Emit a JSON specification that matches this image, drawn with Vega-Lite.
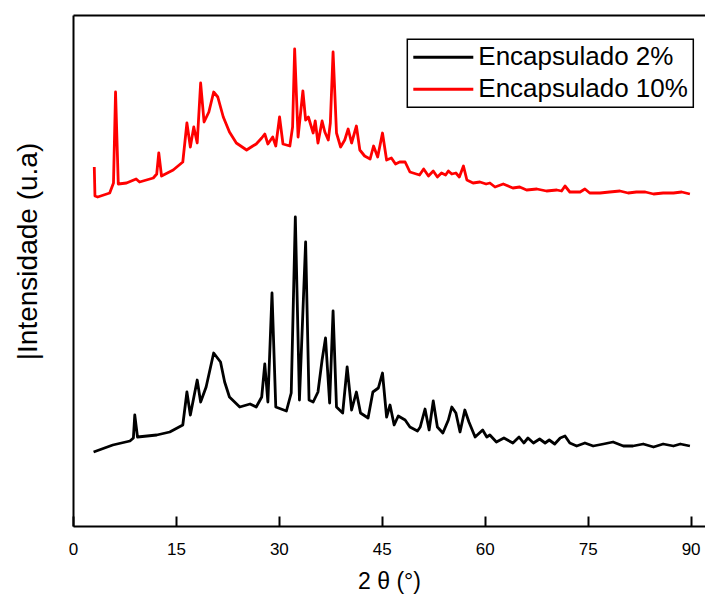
{
  "$schema": "https://vega.github.io/schema/vega-lite/v6.json",
  "autosize": {"type": "none"},
  "padding": {"left": 73, "top": 15, "right": 0, "bottom": 75},
  "width": 632,
  "height": 511,
  "background": "white",
  "config": {
    "view": {"stroke": null},
    "axis": {"grid": false, "domainColor": "#000000", "domainWidth": 2, "tickColor": "#000000", "tickWidth": 2, "labelColor": "#000000", "titleColor": "#000000", "titleFontWeight": "normal"},
    "legend": {"strokeWidth": 1.5}
  },
  "datasets": {
    "xrd": [
      {"s": "Encapsulado 2%", "x": 3.0, "v": 74},
      {"s": "Encapsulado 2%", "x": 5.8, "v": 81},
      {"s": "Encapsulado 2%", "x": 8.3, "v": 85},
      {"s": "Encapsulado 2%", "x": 8.8, "v": 88},
      {"s": "Encapsulado 2%", "x": 9.0, "v": 111},
      {"s": "Encapsulado 2%", "x": 9.4, "v": 89},
      {"s": "Encapsulado 2%", "x": 12.2, "v": 91},
      {"s": "Encapsulado 2%", "x": 14.1, "v": 94},
      {"s": "Encapsulado 2%", "x": 16.0, "v": 101},
      {"s": "Encapsulado 2%", "x": 16.6, "v": 134},
      {"s": "Encapsulado 2%", "x": 17.1, "v": 111},
      {"s": "Encapsulado 2%", "x": 18.1, "v": 146},
      {"s": "Encapsulado 2%", "x": 18.6, "v": 124},
      {"s": "Encapsulado 2%", "x": 19.4, "v": 139},
      {"s": "Encapsulado 2%", "x": 20.5, "v": 173},
      {"s": "Encapsulado 2%", "x": 21.5, "v": 164},
      {"s": "Encapsulado 2%", "x": 22.1, "v": 144},
      {"s": "Encapsulado 2%", "x": 22.8, "v": 129},
      {"s": "Encapsulado 2%", "x": 24.3, "v": 119},
      {"s": "Encapsulado 2%", "x": 25.8, "v": 122},
      {"s": "Encapsulado 2%", "x": 26.7, "v": 119},
      {"s": "Encapsulado 2%", "x": 27.5, "v": 129},
      {"s": "Encapsulado 2%", "x": 27.95, "v": 162},
      {"s": "Encapsulado 2%", "x": 28.4, "v": 124},
      {"s": "Encapsulado 2%", "x": 29.0, "v": 233},
      {"s": "Encapsulado 2%", "x": 29.55, "v": 119},
      {"s": "Encapsulado 2%", "x": 31.1, "v": 115},
      {"s": "Encapsulado 2%", "x": 31.8, "v": 133},
      {"s": "Encapsulado 2%", "x": 32.4, "v": 309},
      {"s": "Encapsulado 2%", "x": 33.0, "v": 126},
      {"s": "Encapsulado 2%", "x": 33.9, "v": 284},
      {"s": "Encapsulado 2%", "x": 34.4, "v": 126},
      {"s": "Encapsulado 2%", "x": 35.0, "v": 124},
      {"s": "Encapsulado 2%", "x": 35.7, "v": 134},
      {"s": "Encapsulado 2%", "x": 36.3, "v": 166},
      {"s": "Encapsulado 2%", "x": 36.8, "v": 188},
      {"s": "Encapsulado 2%", "x": 37.4, "v": 123},
      {"s": "Encapsulado 2%", "x": 37.9, "v": 215},
      {"s": "Encapsulado 2%", "x": 38.4, "v": 119},
      {"s": "Encapsulado 2%", "x": 39.3, "v": 113},
      {"s": "Encapsulado 2%", "x": 39.95, "v": 159},
      {"s": "Encapsulado 2%", "x": 40.6, "v": 116},
      {"s": "Encapsulado 2%", "x": 41.3, "v": 134},
      {"s": "Encapsulado 2%", "x": 41.9, "v": 113},
      {"s": "Encapsulado 2%", "x": 43.0, "v": 108},
      {"s": "Encapsulado 2%", "x": 43.7, "v": 134},
      {"s": "Encapsulado 2%", "x": 44.5, "v": 138},
      {"s": "Encapsulado 2%", "x": 45.1, "v": 153},
      {"s": "Encapsulado 2%", "x": 45.7, "v": 109},
      {"s": "Encapsulado 2%", "x": 46.2, "v": 121},
      {"s": "Encapsulado 2%", "x": 46.8, "v": 101},
      {"s": "Encapsulado 2%", "x": 47.4, "v": 110},
      {"s": "Encapsulado 2%", "x": 48.4, "v": 106},
      {"s": "Encapsulado 2%", "x": 49.1, "v": 99},
      {"s": "Encapsulado 2%", "x": 50.2, "v": 95},
      {"s": "Encapsulado 2%", "x": 50.6, "v": 99},
      {"s": "Encapsulado 2%", "x": 51.3, "v": 117},
      {"s": "Encapsulado 2%", "x": 51.9, "v": 96},
      {"s": "Encapsulado 2%", "x": 52.5, "v": 125},
      {"s": "Encapsulado 2%", "x": 53.1, "v": 99},
      {"s": "Encapsulado 2%", "x": 53.9, "v": 93},
      {"s": "Encapsulado 2%", "x": 54.7, "v": 106},
      {"s": "Encapsulado 2%", "x": 55.2, "v": 119},
      {"s": "Encapsulado 2%", "x": 55.8, "v": 113},
      {"s": "Encapsulado 2%", "x": 56.4, "v": 94},
      {"s": "Encapsulado 2%", "x": 57.1, "v": 116},
      {"s": "Encapsulado 2%", "x": 57.7, "v": 104},
      {"s": "Encapsulado 2%", "x": 58.6, "v": 89},
      {"s": "Encapsulado 2%", "x": 59.7, "v": 96},
      {"s": "Encapsulado 2%", "x": 60.3, "v": 89},
      {"s": "Encapsulado 2%", "x": 60.75, "v": 91},
      {"s": "Encapsulado 2%", "x": 61.7, "v": 84},
      {"s": "Encapsulado 2%", "x": 62.8, "v": 88},
      {"s": "Encapsulado 2%", "x": 64.1, "v": 83},
      {"s": "Encapsulado 2%", "x": 65.0, "v": 89},
      {"s": "Encapsulado 2%", "x": 65.7, "v": 83},
      {"s": "Encapsulado 2%", "x": 66.3, "v": 88},
      {"s": "Encapsulado 2%", "x": 67.1, "v": 83},
      {"s": "Encapsulado 2%", "x": 68.0, "v": 87},
      {"s": "Encapsulado 2%", "x": 68.8, "v": 83},
      {"s": "Encapsulado 2%", "x": 69.4, "v": 86},
      {"s": "Encapsulado 2%", "x": 70.2, "v": 82},
      {"s": "Encapsulado 2%", "x": 71.0, "v": 88},
      {"s": "Encapsulado 2%", "x": 71.7, "v": 90},
      {"s": "Encapsulado 2%", "x": 72.4, "v": 83},
      {"s": "Encapsulado 2%", "x": 73.4, "v": 80},
      {"s": "Encapsulado 2%", "x": 74.6, "v": 83},
      {"s": "Encapsulado 2%", "x": 75.8, "v": 80},
      {"s": "Encapsulado 2%", "x": 77.3, "v": 82},
      {"s": "Encapsulado 2%", "x": 78.7, "v": 84},
      {"s": "Encapsulado 2%", "x": 80.2, "v": 80},
      {"s": "Encapsulado 2%", "x": 81.6, "v": 80},
      {"s": "Encapsulado 2%", "x": 83.1, "v": 82},
      {"s": "Encapsulado 2%", "x": 84.6, "v": 79},
      {"s": "Encapsulado 2%", "x": 86.0, "v": 82},
      {"s": "Encapsulado 2%", "x": 87.5, "v": 80},
      {"s": "Encapsulado 2%", "x": 88.5, "v": 82},
      {"s": "Encapsulado 2%", "x": 89.9, "v": 80},
      {"s": "Encapsulado 10%", "x": 3.1, "v": 359},
      {"s": "Encapsulado 10%", "x": 3.2, "v": 330},
      {"s": "Encapsulado 10%", "x": 3.6, "v": 329},
      {"s": "Encapsulado 10%", "x": 5.35, "v": 333},
      {"s": "Encapsulado 10%", "x": 5.9, "v": 343},
      {"s": "Encapsulado 10%", "x": 6.2, "v": 434},
      {"s": "Encapsulado 10%", "x": 6.6, "v": 342},
      {"s": "Encapsulado 10%", "x": 7.8, "v": 343},
      {"s": "Encapsulado 10%", "x": 9.2, "v": 347},
      {"s": "Encapsulado 10%", "x": 9.7, "v": 344},
      {"s": "Encapsulado 10%", "x": 11.7, "v": 348},
      {"s": "Encapsulado 10%", "x": 12.2, "v": 352},
      {"s": "Encapsulado 10%", "x": 12.5, "v": 373},
      {"s": "Encapsulado 10%", "x": 12.9, "v": 350},
      {"s": "Encapsulado 10%", "x": 14.6, "v": 356},
      {"s": "Encapsulado 10%", "x": 16.0, "v": 364},
      {"s": "Encapsulado 10%", "x": 16.6, "v": 403},
      {"s": "Encapsulado 10%", "x": 17.1, "v": 379},
      {"s": "Encapsulado 10%", "x": 17.6, "v": 399},
      {"s": "Encapsulado 10%", "x": 18.1, "v": 383},
      {"s": "Encapsulado 10%", "x": 18.6, "v": 443},
      {"s": "Encapsulado 10%", "x": 19.1, "v": 404},
      {"s": "Encapsulado 10%", "x": 19.8, "v": 414},
      {"s": "Encapsulado 10%", "x": 20.5, "v": 434},
      {"s": "Encapsulado 10%", "x": 21.1, "v": 429},
      {"s": "Encapsulado 10%", "x": 21.9, "v": 409},
      {"s": "Encapsulado 10%", "x": 22.8, "v": 394},
      {"s": "Encapsulado 10%", "x": 23.8, "v": 383},
      {"s": "Encapsulado 10%", "x": 25.3, "v": 376},
      {"s": "Encapsulado 10%", "x": 26.2, "v": 380},
      {"s": "Encapsulado 10%", "x": 26.7, "v": 382},
      {"s": "Encapsulado 10%", "x": 27.5, "v": 388},
      {"s": "Encapsulado 10%", "x": 27.95, "v": 392},
      {"s": "Encapsulado 10%", "x": 28.4, "v": 382},
      {"s": "Encapsulado 10%", "x": 29.1, "v": 389},
      {"s": "Encapsulado 10%", "x": 29.55, "v": 380},
      {"s": "Encapsulado 10%", "x": 30.1, "v": 409},
      {"s": "Encapsulado 10%", "x": 30.6, "v": 382},
      {"s": "Encapsulado 10%", "x": 31.6, "v": 380},
      {"s": "Encapsulado 10%", "x": 32.0, "v": 399},
      {"s": "Encapsulado 10%", "x": 32.3, "v": 477},
      {"s": "Encapsulado 10%", "x": 32.8, "v": 389},
      {"s": "Encapsulado 10%", "x": 33.5, "v": 435},
      {"s": "Encapsulado 10%", "x": 33.9, "v": 406},
      {"s": "Encapsulado 10%", "x": 34.3, "v": 409},
      {"s": "Encapsulado 10%", "x": 34.65, "v": 401},
      {"s": "Encapsulado 10%", "x": 35.0, "v": 393},
      {"s": "Encapsulado 10%", "x": 35.3, "v": 405},
      {"s": "Encapsulado 10%", "x": 35.7, "v": 383},
      {"s": "Encapsulado 10%", "x": 36.3, "v": 405},
      {"s": "Encapsulado 10%", "x": 36.7, "v": 394},
      {"s": "Encapsulado 10%", "x": 37.2, "v": 386},
      {"s": "Encapsulado 10%", "x": 37.5, "v": 403},
      {"s": "Encapsulado 10%", "x": 37.9, "v": 474},
      {"s": "Encapsulado 10%", "x": 38.4, "v": 393},
      {"s": "Encapsulado 10%", "x": 39.0, "v": 379},
      {"s": "Encapsulado 10%", "x": 39.6, "v": 386},
      {"s": "Encapsulado 10%", "x": 40.1, "v": 397},
      {"s": "Encapsulado 10%", "x": 40.6, "v": 383},
      {"s": "Encapsulado 10%", "x": 41.3, "v": 400},
      {"s": "Encapsulado 10%", "x": 41.8, "v": 376},
      {"s": "Encapsulado 10%", "x": 42.5, "v": 370},
      {"s": "Encapsulado 10%", "x": 43.3, "v": 367},
      {"s": "Encapsulado 10%", "x": 43.8, "v": 380},
      {"s": "Encapsulado 10%", "x": 44.4, "v": 369},
      {"s": "Encapsulado 10%", "x": 45.1, "v": 393},
      {"s": "Encapsulado 10%", "x": 45.7, "v": 366},
      {"s": "Encapsulado 10%", "x": 46.4, "v": 368},
      {"s": "Encapsulado 10%", "x": 47.0, "v": 362},
      {"s": "Encapsulado 10%", "x": 47.6, "v": 364},
      {"s": "Encapsulado 10%", "x": 48.4, "v": 364},
      {"s": "Encapsulado 10%", "x": 49.1, "v": 354},
      {"s": "Encapsulado 10%", "x": 50.5, "v": 351},
      {"s": "Encapsulado 10%", "x": 51.1, "v": 357},
      {"s": "Encapsulado 10%", "x": 51.8, "v": 350},
      {"s": "Encapsulado 10%", "x": 52.5, "v": 355},
      {"s": "Encapsulado 10%", "x": 53.1, "v": 349},
      {"s": "Encapsulado 10%", "x": 53.7, "v": 353},
      {"s": "Encapsulado 10%", "x": 54.3, "v": 351},
      {"s": "Encapsulado 10%", "x": 54.7, "v": 355},
      {"s": "Encapsulado 10%", "x": 55.2, "v": 352},
      {"s": "Encapsulado 10%", "x": 55.8, "v": 353},
      {"s": "Encapsulado 10%", "x": 56.3, "v": 349},
      {"s": "Encapsulado 10%", "x": 56.9, "v": 360},
      {"s": "Encapsulado 10%", "x": 57.4, "v": 346},
      {"s": "Encapsulado 10%", "x": 58.3, "v": 343},
      {"s": "Encapsulado 10%", "x": 59.3, "v": 344},
      {"s": "Encapsulado 10%", "x": 60.2, "v": 342},
      {"s": "Encapsulado 10%", "x": 60.75, "v": 343},
      {"s": "Encapsulado 10%", "x": 61.5, "v": 339},
      {"s": "Encapsulado 10%", "x": 62.7, "v": 342},
      {"s": "Encapsulado 10%", "x": 64.1, "v": 338},
      {"s": "Encapsulado 10%", "x": 65.1, "v": 339},
      {"s": "Encapsulado 10%", "x": 66.1, "v": 336},
      {"s": "Encapsulado 10%", "x": 67.6, "v": 337},
      {"s": "Encapsulado 10%", "x": 69.0, "v": 335},
      {"s": "Encapsulado 10%", "x": 70.5, "v": 336},
      {"s": "Encapsulado 10%", "x": 71.2, "v": 335},
      {"s": "Encapsulado 10%", "x": 71.7, "v": 340},
      {"s": "Encapsulado 10%", "x": 72.4, "v": 334},
      {"s": "Encapsulado 10%", "x": 73.9, "v": 334},
      {"s": "Encapsulado 10%", "x": 74.6, "v": 337},
      {"s": "Encapsulado 10%", "x": 75.3, "v": 333},
      {"s": "Encapsulado 10%", "x": 76.8, "v": 333},
      {"s": "Encapsulado 10%", "x": 78.2, "v": 334},
      {"s": "Encapsulado 10%", "x": 79.7, "v": 335},
      {"s": "Encapsulado 10%", "x": 80.9, "v": 333},
      {"s": "Encapsulado 10%", "x": 82.1, "v": 334},
      {"s": "Encapsulado 10%", "x": 83.4, "v": 334},
      {"s": "Encapsulado 10%", "x": 84.6, "v": 332},
      {"s": "Encapsulado 10%", "x": 86.0, "v": 333},
      {"s": "Encapsulado 10%", "x": 87.5, "v": 333},
      {"s": "Encapsulado 10%", "x": 88.7, "v": 334},
      {"s": "Encapsulado 10%", "x": 89.9, "v": 332}
    ]
  },
  "data": {"name": "xrd"},
  "resolve": {"axis": {"x": "independent"}},
  "layer": [
    {
      "transform": [{"filter": "datum.s === 'Encapsulado 2%'"}],
      "mark": {"type": "line", "strokeWidth": 2.8, "interpolate": "linear", "strokeJoin": "round"},
      "encoding": {
        "x": {"field": "x", "type": "quantitative", "scale": {"domain": [0, 92.1], "nice": false, "zero": false},
          "axis": {"orient": "bottom", "values": [0, 15, 30, 45, 60, 75, 90], "tickSize": -10, "labelPadding": 25, "labelFont": "Liberation Sans", "labelFontSize": 17, "labelFlush": false, "title": "2 θ (°)", "titleFont": "Liberation Sans", "titleFontSize": 23, "titlePadding": 13}},
        "y": {"field": "v", "type": "quantitative", "scale": {"domain": [0, 511], "nice": false},
          "axis": {"labels": false, "ticks": false, "title": "|Intensidade (u.a)", "titleFont": "Liberation Sans", "titleFontSize": 28, "titlePadding": 31, "titleY": 236}},
        "color": {"field": "s", "type": "nominal",
          "scale": {"domain": ["Encapsulado 2%", "Encapsulado 10%"], "range": ["#000000", "#ff0000"]},
          "legend": {"title": null, "orient": "none", "legendX": 334.3, "legendY": 24.3, "strokeColor": "#000000", "fillColor": "#ffffff", "padding": 5, "rowPadding": 6,
            "symbolType": "M-1.2,0H4.8", "symbolSize": 400, "symbolStrokeWidth": 3, "labelOffset": 40,
            "labelFont": "Liberation Sans", "labelFontSize": 26, "labelColor": "#000000", "labelLimit": 400}}
      }
    },
    {
      "transform": [{"filter": "datum.s === 'Encapsulado 10%'"}],
      "mark": {"type": "line", "strokeWidth": 2.8, "interpolate": "linear", "strokeJoin": "round"},
      "encoding": {
        "x": {"field": "x", "type": "quantitative", "axis": {"orient": "top", "labels": false, "ticks": false, "title": null}},
        "y": {"field": "v", "type": "quantitative"},
        "color": {"field": "s", "type": "nominal"}
      }
    }
  ]
}
